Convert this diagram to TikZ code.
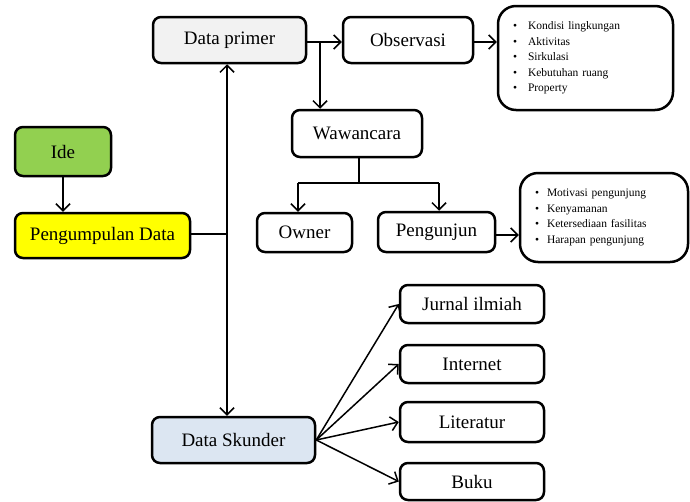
\documentclass[tikz,border=0pt]{standalone}
\usepackage{fontspec}
\setmainfont{Liberation Serif}
\usetikzlibrary{arrows.meta}
\definecolor{grayfill}{HTML}{F2F2F2}
\definecolor{idegreen}{HTML}{92D050}
\definecolor{pengyellow}{HTML}{FFFF00}
\definecolor{skblue}{HTML}{DCE6F2}
\begin{document}
\begin{tikzpicture}[x=1pt,y=-1pt,
  box/.style={draw=black, line width=2.5pt, rounded corners=8pt, fill=white,
    inner sep=0pt, font=\fontsize{19}{22}\selectfont},
  listbox/.style={draw=black, line width=2.5pt, rounded corners=18pt, fill=white,
    inner sep=0pt, align=left, font=\fontsize{11.5}{15.5}\selectfont},
  arr/.style={line width=1.5pt, -{Straight Barb[length=7pt,width=14pt,line width=1.5pt]}},
  ln/.style={line width=1.5pt}]
\useasboundingbox (0,0) rectangle (690,501);

\node[box, fill=grayfill, minimum width=153pt, minimum height=46pt] (dprimer) at (229.5,40) {Data primer};
\node[box, minimum width=130pt, minimum height=46pt] (obs) at (408,40) {Observasi};
\node[listbox, minimum width=175pt, minimum height=104pt, text width=145pt] (obslist) at (585.5,58)
  {\makebox[15pt][l]{\textbullet}Kondisi lingkungan\\
   \makebox[15pt][l]{\textbullet}Aktivitas\\
   \makebox[15pt][l]{\textbullet}Sirkulasi\\
   \makebox[15pt][l]{\textbullet}Kebutuhan ruang\\
   \makebox[15pt][l]{\textbullet}Property};
\node[box, minimum width=130pt, minimum height=47pt] (waw) at (357,133.5) {Wawancara};
\node[box, fill=idegreen, minimum width=96pt, minimum height=49pt] (ide) at (63,151.5) {Ide};
\node[box, fill=pengyellow, minimum width=175pt, minimum height=45pt] (peng) at (102.5,235.5) {Pengumpulan Data};
\node[box, minimum width=95pt, minimum height=39pt] (owner) at (304.5,232.5) {Owner};
\node[box, minimum width=117pt, minimum height=40pt] (pengunjun) at (436.5,232) {Pengunjun};
\node[listbox, minimum width=168pt, minimum height=89pt, text width=138pt] (plist) at (604,217.5)
  {\makebox[12pt][l]{\textbullet}Motivasi pengunjung\\
   \makebox[12pt][l]{\textbullet}Kenyamanan\\
   \makebox[12pt][l]{\textbullet}Ketersediaan fasilitas\\
   \makebox[12pt][l]{\textbullet}Harapan pengunjung};
\node[box, fill=skblue, minimum width=163pt, minimum height=46pt] (dsk) at (233.5,440) {Data Skunder};
\node[box, minimum width=144pt, minimum height=38pt] (jurnal) at (472,304) {Jurnal ilmiah};
\node[box, minimum width=144pt, minimum height=38pt] (internet) at (472,364) {Internet};
\node[box, minimum width=144pt, minimum height=40pt] (literatur) at (472,422) {Literatur};
\node[box, minimum width=144pt, minimum height=37pt] (buku) at (472,481.5) {Buku};

% Ide -> Pengumpulan
\draw[arr] (ide.south) -- (peng.north -| ide.south);
% Pengumpulan -> vertical trunk
\coordinate (j) at (227,234);
\draw[ln] (peng.east |- j) -- (j);
\draw[arr] (j) -- (dprimer.south -| j);
\draw[arr] (j) -- (dsk.north -| j);
% Data primer -> Observasi, Wawancara
\coordinate (b) at (320,42);
\draw[arr] (dprimer.east |- b) -- (obs.west |- b);
\draw[arr] (b) -- (waw.north -| b);
% Observasi -> list
\draw[arr] (obs.east |- b) -- (obslist.west |- b);
% Wawancara -> Owner, Pengunjun
\coordinate (w) at (359,183);
\coordinate (wl) at (298,183);
\coordinate (wr) at (439,183);
\draw[ln] (waw.south -| w) -- (w);
\draw[ln] (wl) -- (wr);
\draw[arr] (wl) -- (owner.north -| wl);
\draw[arr] (wr) -- (pengunjun.north -| wr);
% Pengunjun -> list
\coordinate (p) at (495,235);
\draw[arr] (pengunjun.east |- p) -- (plist.west |- p);
% Data Skunder -> sources
\draw[arr] (dsk.east) -- (jurnal.west);
\draw[arr] (dsk.east) -- (internet.west);
\draw[arr] (dsk.east) -- (literatur.west);
\draw[arr] (dsk.east) -- (buku.west);
\end{tikzpicture}
\end{document}
